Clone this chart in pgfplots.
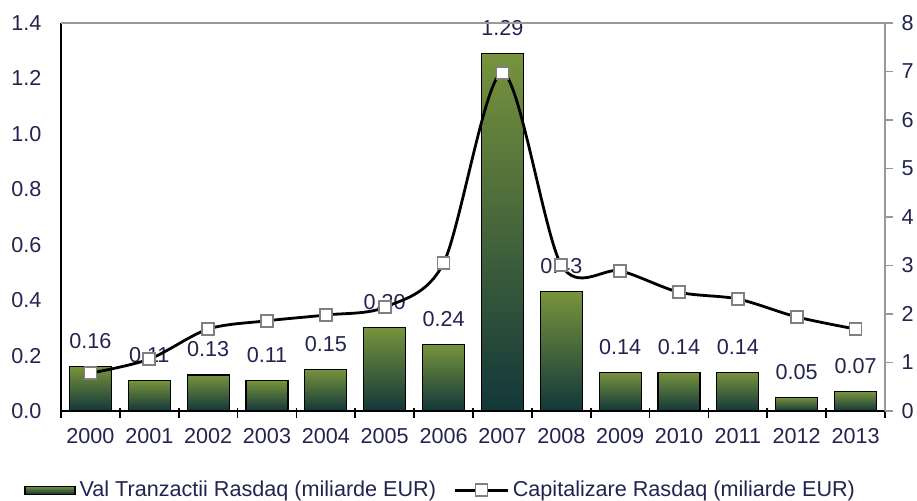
\documentclass[border=0pt]{standalone}
\usepackage{pgfplots}
\pgfplotsset{compat=1.18}
\usepackage{fontspec}
\setmainfont{Liberation Sans}
\definecolor{txt}{RGB}{35,35,80}
\definecolor{olive}{RGB}{119,147,60}
\definecolor{darkteal}{RGB}{18,55,58}
\pgfplotsset{barstyle/.style={ybar, bar width=21pt, draw=black, line width=0.6pt, top color=olive, bottom color=darkteal}}
\newcommand\onebar[2]{\addplot[barstyle] coordinates {(#1,#2)};}
\begin{document}
\fontsize{10.8}{13}\selectfont
\begin{tikzpicture}
\useasboundingbox (-30.5pt,-44.5pt) rectangle (428pt,205.5pt);
\begin{axis}[
  scale only axis, width=412pt, height=194pt,
  xmin=-0.5, xmax=13.5, ymin=0, ymax=1.4,
  axis x line*=bottom, axis y line*=left,
  axis line style={black, line width=0.8pt},
  xtick={0,...,13},
  xticklabels={2000,2001,2002,2003,2004,2005,2006,2007,2008,2009,2010,2011,2012,2013},
  minor xtick={-0.5,0.5,...,13.5},
  major tick length=0pt,
  minor tick length=5pt,
  tick align=center,
  minor tick style={black, line width=0.8pt, yshift=-1pt},
  ytick={0,0.2,...,1.4},
  yticklabel style={/pgf/number format/fixed, /pgf/number format/fixed zerofill, /pgf/number format/precision=1, xshift=-6pt, text=txt},
  xticklabel style={yshift=-5pt, text=txt},
  /pgf/number format/assume math mode=true,
  tick label style={font=\fontsize{10.8}{13}\selectfont},
  nodes near coords,
  nodes near coords style={/pgf/number format/fixed, /pgf/number format/fixed zerofill, /pgf/number format/precision=2, text=txt, font=\fontsize{10.8}{13}\selectfont, yshift=5pt},
]
\onebar{0}{0.16}
\onebar{1}{0.11}
\onebar{2}{0.13}
\onebar{3}{0.11}
\onebar{4}{0.15}
\onebar{5}{0.30}
\onebar{6}{0.24}
\onebar{7}{1.29}
\onebar{8}{0.43}
\onebar{9}{0.14}
\onebar{10}{0.14}
\onebar{11}{0.14}
\onebar{12}{0.05}
\onebar{13}{0.07}
\end{axis}
\begin{axis}[
  scale only axis, width=412pt, height=194pt,
  xmin=-0.5, xmax=13.5, ymin=0, ymax=8,
  axis x line*=top, axis y line*=right,
  axis line style={gray!80, line width=0.8pt},
  xtick=\empty,
  ytick={0,...,8},
  major tick length=4pt, tick align=outside,
  ytick style={gray!80, line width=0.8pt},
  yticklabel style={text=txt, xshift=0.5pt},
  /pgf/number format/assume math mode=true,
  tick label style={font=\fontsize{10.8}{13}\selectfont},
  legend columns=2,
  legend style={at={(0.462,-0.204)}, anchor=center, draw=none, fill=none, font=\fontsize{10.8}{13}\selectfont, text=txt,
    /tikz/every even column/.append style={column sep=7pt}},
]
\addlegendimage{legend image code/.code={\draw[draw=black, line width=0.6pt, top color=olive, bottom color=darkteal] (0pt,-2pt) rectangle (25pt,2pt);}}
\addlegendentry{Val Tranzactii Rasdaq (miliarde EUR)}
\addplot[black, line width=1.4pt, smooth, tension=0.5, mark=square*, mark size=3pt, mark options={fill=white, draw=gray, line width=0.8pt},
  legend image code/.code={\draw[mark repeat=2, mark phase=2] plot coordinates {(0pt,0pt) (13pt,0pt) (26pt,0pt)};}]
  coordinates {(0,0.78) (1,1.07) (2,1.69) (3,1.86) (4,1.98) (5,2.14) (6,3.05) (7,6.97) (8,3.01) (9,2.89) (10,2.45) (11,2.31) (12,1.94) (13,1.69)};
\addlegendentry{Capitalizare Rasdaq (miliarde EUR)}
\end{axis}
\end{tikzpicture}
\end{document}
